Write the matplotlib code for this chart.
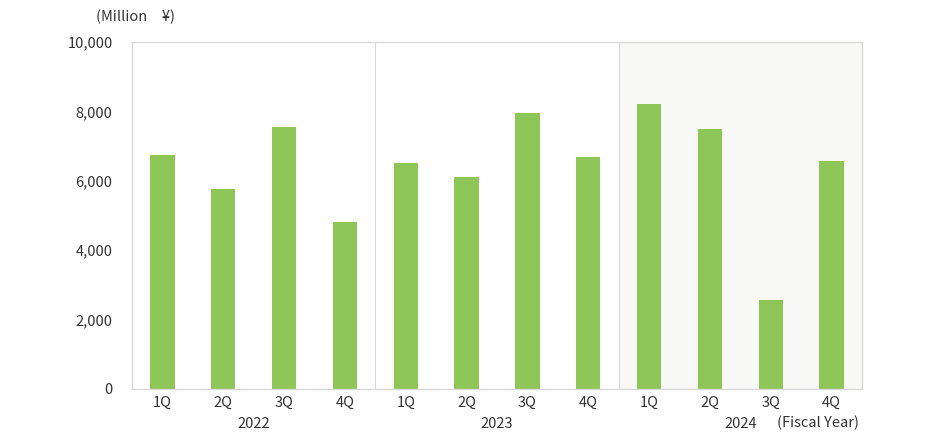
import matplotlib.pyplot as plt

plt.rcParams['font.family'] = ['Noto Sans CJK JP', 'DejaVu Sans']

years = ['2022', '2023', '2024']
quarters = ['1Q', '2Q', '3Q', '4Q']
values = [6740, 5760, 7550, 4810,
          6510, 6110, 7950, 6680,
          8200, 7500, 2570, 6570]

labels = quarters * len(years)
x = list(range(len(values)))

fig = plt.figure(figsize=(9.3, 4.41), dpi=100)
ax = fig.add_axes([132 / 930, 1 - 389 / 441, 730 / 930, 347 / 441])

# shaded latest year
ax.axvspan(7.5, 11.5, color='#f9f9f7', zorder=0)
ax.axvline(3.5, color='#d9d9d9', lw=0.8, zorder=1)
ax.axvline(7.5, color='#d9d9d9', lw=0.8, zorder=1)

ax.bar(x, values, width=0.4, color='#8dc556', zorder=2)

ax.set_xlim(-0.5, 11.5)
ax.set_ylim(0, 10000)
ax.set_yticks(range(0, 10001, 2000))
ax.set_yticklabels([f'{v:,}' for v in range(0, 10001, 2000)])
ax.set_xticks(x)
ax.set_xticklabels(labels)
ax.tick_params(axis='both', length=0, labelsize=10.5, colors='#333333', pad=5)
ax.tick_params(axis='y', pad=14)

for s in ax.spines.values():
    s.set_color('#d9d9d9')
    s.set_linewidth(1)

for i, y in enumerate(years):
    ax.text(i * 4 + 1.5, -0.1, y, transform=ax.get_xaxis_transform(),
            ha='center', va='center', fontsize=10.5, color='#333333')

ax.text(11.45, -0.097, '(Fiscal Year)', transform=ax.get_xaxis_transform(),
        ha='right', va='center', fontsize=10.5, color='#333333')
fig.text(135 / 930, 1 - 17 / 441, '(Million\u3000¥)', ha='center', va='center',
         fontsize=10.5, color='#333333')

fig.savefig('out.png', dpi=100)
